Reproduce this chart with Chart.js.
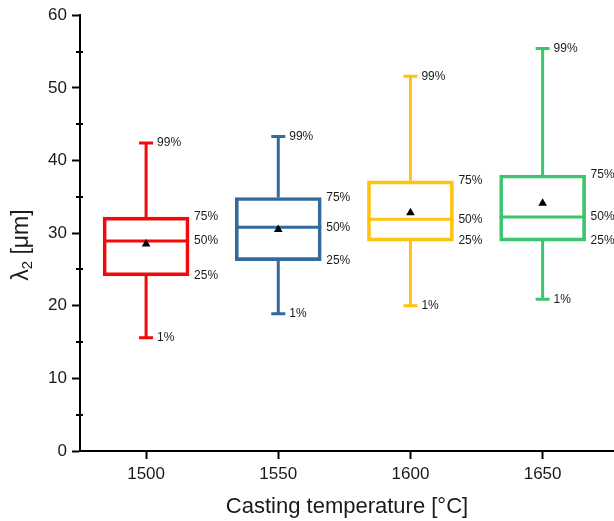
<!DOCTYPE html>
<html>
<head>
<meta charset="utf-8">
<script src="https://cdn.jsdelivr.net/npm/chart.js@4/dist/chart.umd.min.js"></script>
<style>
  body { margin: 0; background: #fff; }
  canvas { display: block; }
</style>
</head>
<body>
<canvas id="chart" width="614" height="521"></canvas>
<script>
// casting temperatures and the percentile summary for each one
const temperatures = [1500, 1550, 1600, 1650];
const p1 = [15.6, 18.9, 20.0, 20.9];
const q1 = [24.1, 26.2, 28.9, 28.9];
const median = [28.9, 30.8, 31.9, 32.2];
const q3 = [32.2, 34.9, 37.2, 38.0];
const p99 = [42.4, 43.3, 51.6, 55.4];
const mean = [28.5, 30.5, 32.8, 34.1];

const yTicks = [0, 10, 20, 30, 40, 50, 60];
const yMinorTicks = [5, 15, 25, 35, 45, 55];

const colors = ["#F00A0A", "#336A9E", "#FFC20E", "#3CC46F"];
const textColor = "#1a1a1a";

// whiskers, caps and median lines behind the boxes, percent labels on top
const boxExtras = {
    id: "boxExtras",
    beforeDatasetsDraw(chart) {
        const ctx = chart.ctx;
        const y = chart.scales.y;
        const bars = chart.getDatasetMeta(1).data;
        ctx.save();
        ctx.lineWidth = 3;
        bars.forEach((bar, i) => {
            const cx = bar.x;
            const half = bar.width / 2;
            ctx.strokeStyle = colors[i];
            ctx.beginPath();
            ctx.moveTo(cx, y.getPixelForValue(q3[i]));
            ctx.lineTo(cx, y.getPixelForValue(p99[i]));
            ctx.moveTo(cx, y.getPixelForValue(q1[i]));
            ctx.lineTo(cx, y.getPixelForValue(p1[i]));
            ctx.moveTo(cx - 7, y.getPixelForValue(p99[i]));
            ctx.lineTo(cx + 7, y.getPixelForValue(p99[i]));
            ctx.moveTo(cx - 7, y.getPixelForValue(p1[i]));
            ctx.lineTo(cx + 7, y.getPixelForValue(p1[i]));
            ctx.moveTo(cx - half, y.getPixelForValue(median[i]));
            ctx.lineTo(cx + half, y.getPixelForValue(median[i]));
            ctx.stroke();
        });
        ctx.restore();
    },
    afterDraw(chart) {
        const ctx = chart.ctx;
        const y = chart.scales.y;
        const bars = chart.getDatasetMeta(1).data;
        ctx.save();
        ctx.fillStyle = textColor;
        ctx.font = "12px 'Liberation Sans', Arial, sans-serif";
        ctx.textBaseline = "middle";
        ctx.textAlign = "left";
        bars.forEach((bar, i) => {
            const right = bar.x + bar.width / 2 + 5;
            ctx.fillText("99%", bar.x + 11, y.getPixelForValue(p99[i]));
            ctx.fillText("75%", right, y.getPixelForValue(q3[i]));
            ctx.fillText("50%", right, y.getPixelForValue(median[i]));
            ctx.fillText("25%", right, y.getPixelForValue(q1[i]));
            ctx.fillText("1%", bar.x + 11, y.getPixelForValue(p1[i]));
        });

        // minor ticks on the value axis
        const ax = chart.chartArea.left;
        ctx.strokeStyle = "#000";
        ctx.lineWidth = 2;
        ctx.beginPath();
        yMinorTicks.forEach(v => {
            const py = Math.round(y.getPixelForValue(v));
            ctx.moveTo(ax - 4, py);
            ctx.lineTo(ax + 3, py);
        });
        ctx.stroke();

        // value axis title with subscript
        const cy = (chart.chartArea.top + chart.chartArea.bottom) / 2 + 12;
        ctx.translate(22, cy);
        ctx.rotate(-Math.PI / 2);
        ctx.textBaseline = "middle";
        const main = "23px 'Liberation Sans', Arial, sans-serif";
        const sub = "15px 'Liberation Sans', Arial, sans-serif";
        ctx.font = main;
        const w1 = ctx.measureText("λ").width;
        const w3 = ctx.measureText(" [μm]").width;
        ctx.font = sub;
        const w2 = ctx.measureText("2").width;
        let x0 = -(w1 + w2 + w3) / 2;
        ctx.font = main;
        ctx.fillText("λ", x0, 0);
        ctx.font = sub;
        ctx.fillText("2", x0 + w1, 6);
        ctx.font = main;
        ctx.fillText(" [μm]", x0 + w1 + w2, 0);
        ctx.restore();
    }
};

new Chart(document.getElementById("chart"), {
    type: "bar",
    data: {
        datasets: [
            {
                type: "scatter",
                data: temperatures.map((t, i) => ({ x: t, y: mean[i] })),
                pointStyle: "triangle",
                pointRadius: 5,
                backgroundColor: "#000",
                borderColor: "#000",
                borderWidth: 0,
                order: 0
            },
            {
                type: "bar",
                data: temperatures.map((t, i) => ({ x: t, y: [q1[i], q3[i]] })),
                backgroundColor: "rgba(0,0,0,0)",
                borderColor: colors,
                borderWidth: 3,
                borderSkipped: false,
                barThickness: 86,
                order: 1
            }
        ]
    },
    options: {
        responsive: false,
        animation: false,
        layout: { autoPadding: false, padding: { top: 15, right: 0, left: 0, bottom: 0 } },
        plugins: {
            legend: { display: false },
            tooltip: { enabled: false }
        },
        scales: {
            x: {
                type: "linear",
                min: 1475,
                max: 1677,
                offset: false,
                afterBuildTicks: s => { s.ticks = temperatures.map(v => ({ value: v })); },
                afterFit: s => { s.height = 70; s.paddingLeft = 0; s.paddingRight = 0; },
                ticks: {
                    callback: v => String(v),
                    color: textColor,
                    padding: 5,
                    maxRotation: 0,
                    font: { family: "'Liberation Sans', Arial, sans-serif", size: 17 }
                },
                grid: { offset: false, drawOnChartArea: false, tickLength: 8, tickColor: "#000", tickWidth: 2 },
                border: { color: "#000", width: 2 },
                title: {
                    display: true,
                    text: "Casting temperature [°C]",
                    color: textColor,
                    padding: { top: 0, bottom: 1 },
                    font: { family: "'Liberation Sans', Arial, sans-serif", size: 22 }
                }
            },
            y: {
                min: 0,
                max: 60,
                afterBuildTicks: s => { s.ticks = yTicks.map(v => ({ value: v })); },
                afterFit: s => { s.width = 80; },
                ticks: {
                    color: textColor,
                    padding: 5,
                    font: { family: "'Liberation Sans', Arial, sans-serif", size: 17 }
                },
                grid: { drawOnChartArea: false, tickLength: 8, tickColor: "#000", tickWidth: 2 },
                border: { color: "#000", width: 2 }
            }
        }
    },
    plugins: [boxExtras]
});
</script>
</body>
</html>
